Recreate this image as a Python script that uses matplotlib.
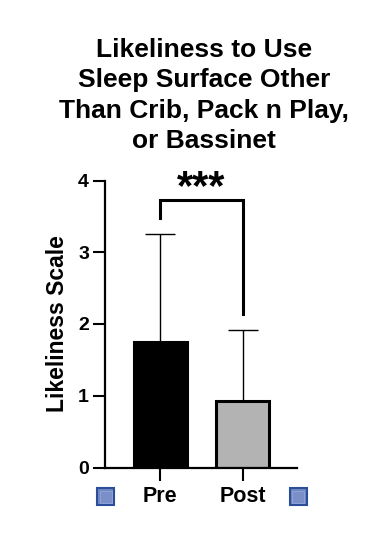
import matplotlib
matplotlib.use("Agg")
import matplotlib.pyplot as plt
from matplotlib.patches import Rectangle

plt.rcParams['font.family'] = ['Liberation Sans', 'DejaVu Sans']
plt.rcParams['font.weight'] = 'bold'

# Data
groups = ['Pre', 'Post']
means = [1.75, 0.93]
sds = [1.50, 0.99]
bar_colors = ['#000000', '#B3B3B3']
yticks = [0, 1, 2, 3, 4]
sig_label = '***'
bracket_top = 3.73
bracket_left_end = 3.48
bracket_right_end = 2.14

fig = plt.figure(figsize=(3.74, 5.44), dpi=100)
ax = fig.add_axes([105 / 374, 76.5 / 544, 192 / 374, 287 / 544])

x = list(range(len(groups)))

# error bars (upper only), drawn under the bars
ax.errorbar(x, means, yerr=[[0] * len(sds), sds], fmt='none', ecolor='black',
            elinewidth=1.0, capsize=10.5, capthick=1.0, zorder=1)
ax.bar(x, means, width=0.64, color=bar_colors, edgecolor='black',
       linewidth=2.2, zorder=2)

# significance bracket
ax.plot([x[0], x[0], x[1], x[1]],
        [bracket_left_end, bracket_top, bracket_top, bracket_right_end],
        color='black', linewidth=2.2, solid_joinstyle='miter', clip_on=False)
ax.text((x[0] + x[1]) / 2, 3.9, sig_label, ha='center', va='center',
        fontsize=30, fontweight='bold', clip_on=False)

ax.set_xlim(-0.67, 1.66)
ax.set_ylim(0, 4)
ax.set_yticks(yticks)
ax.set_xticks(x)
ax.set_xticklabels(groups, fontsize=15.5, fontweight='bold')
ax.tick_params(axis='y', labelsize=14, length=8.5, width=1.5, pad=3)
ax.tick_params(axis='x', length=9, width=1.5, pad=4)

for side in ['top', 'right']:
    ax.spines[side].set_visible(False)
for side in ['left', 'bottom']:
    ax.spines[side].set_linewidth(1.6)

ax.set_ylabel('Likeliness Scale', fontsize=16.5, fontweight='bold')
ax.yaxis.set_label_coords(-0.185, 0.5)

fig.text(204 / 374, 1 - 148 / 544,
         'Likeliness to Use\nSleep Surface Other\nThan Crib, Pack n Play,\nor Bassinet',
         ha='center', va='baseline', fontsize=19, fontweight='bold',
         linespacing=1.33, multialignment='center')

# the little blue legend squares under the axis ends
for cx in [105.5, 298]:
    outer = Rectangle(((cx - 8.5) / 374, (544 - 496.5 - 8.5) / 544), 17 / 374, 17 / 544,
                      transform=fig.transFigure, facecolor='#7088C2',
                      edgecolor='#2B4E98', linewidth=1.5)
    inner = Rectangle(((cx - 6) / 374, (544 - 496.5 - 6) / 544), 12 / 374, 12 / 544,
                      transform=fig.transFigure, facecolor='#7A8FC8',
                      edgecolor='#95A6D8', linewidth=0.6)
    fig.patches.extend([outer, inner])

fig.savefig('out.png', dpi=100)
